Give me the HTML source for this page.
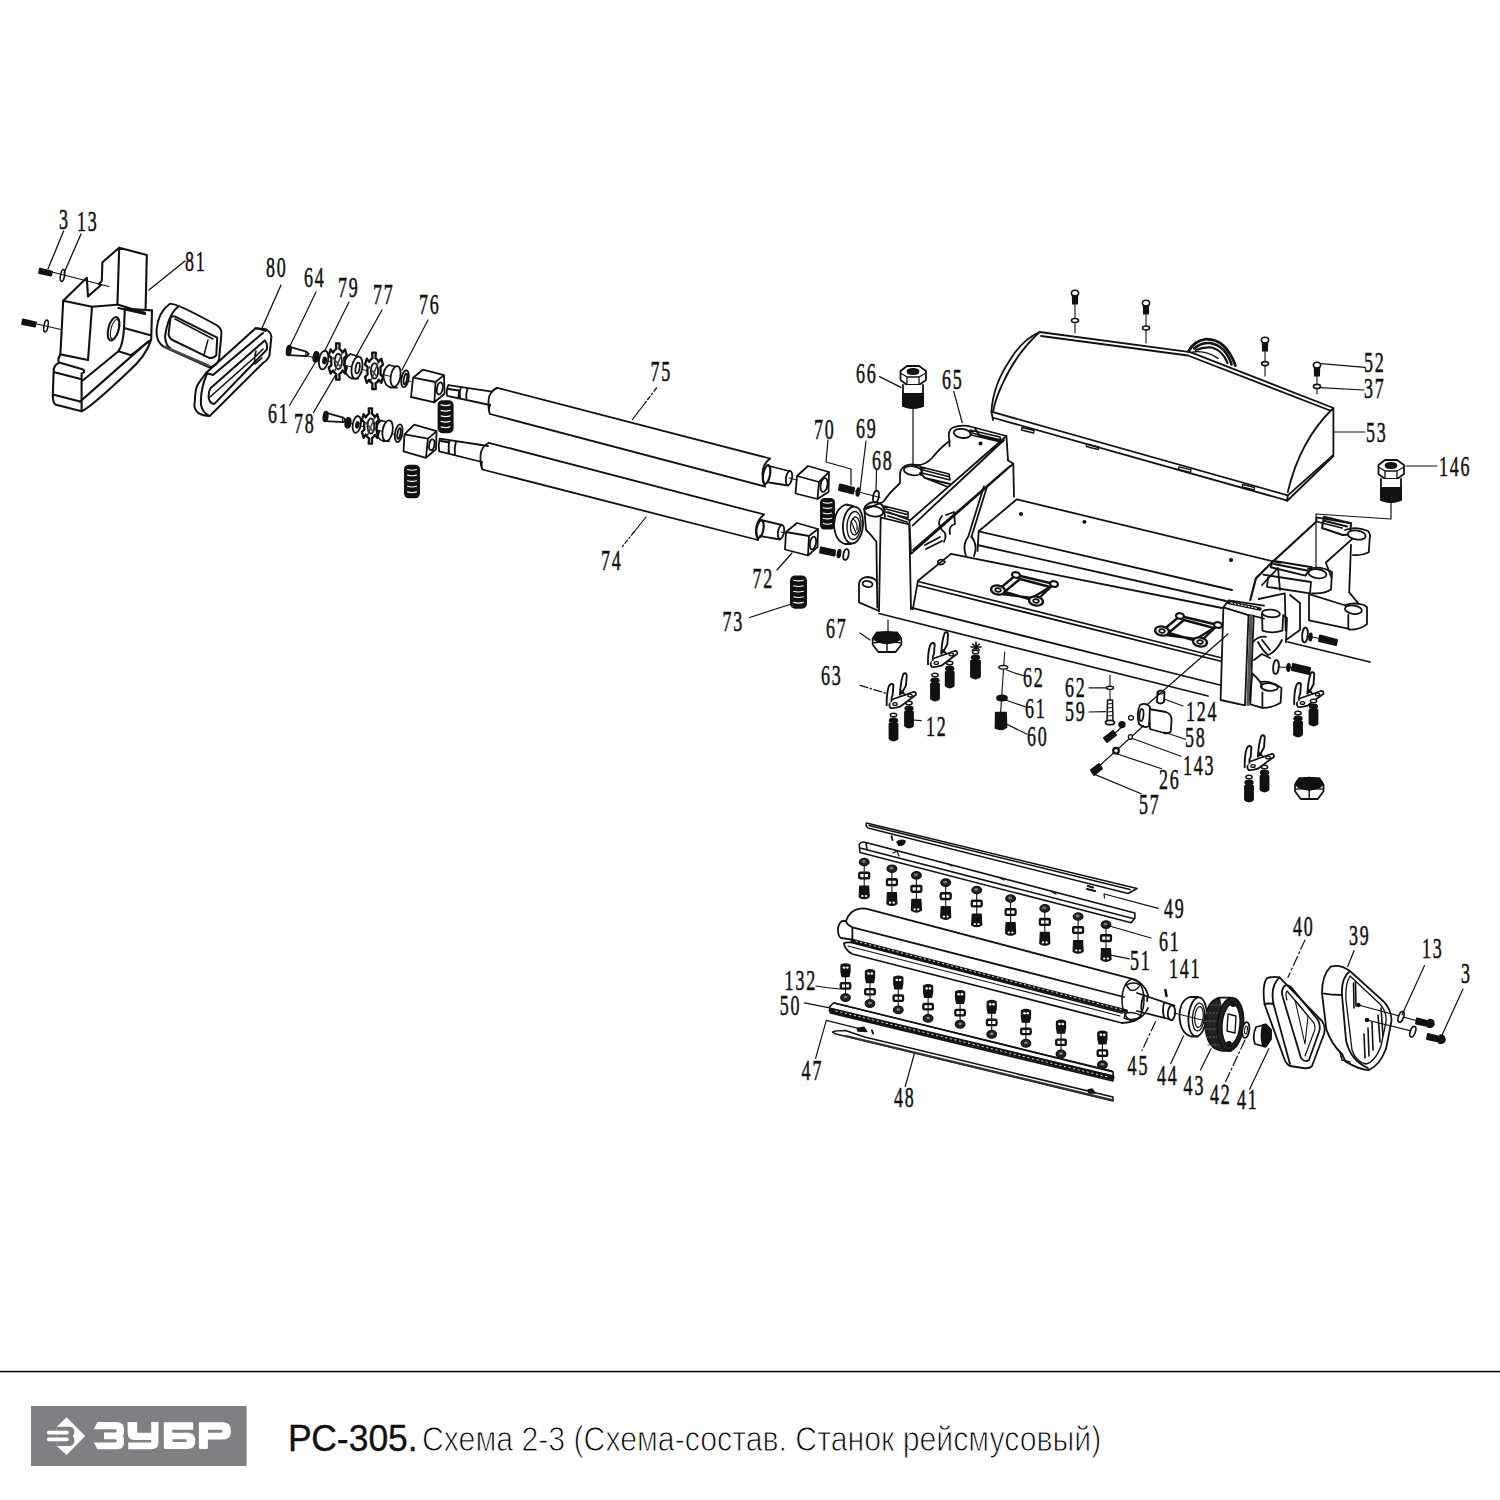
<!DOCTYPE html>
<html><head><meta charset="utf-8">
<style>
html,body{margin:0;padding:0;background:#fff;}
body{width:1500px;height:1500px;position:relative;overflow:hidden;}
svg{position:absolute;left:0;top:0;}
.ft{position:absolute;font-family:"Liberation Sans",sans-serif;white-space:nowrap;color:#1a1a1a;}
</style></head><body>
<svg width="1500" height="1500" viewBox="0 0 1500 1500">
<g id="draw" fill="none" stroke="#111" stroke-width="1.8" stroke-linejoin="round" stroke-linecap="round">
<!-- PART81 -->
<path d="M119.2,247.8 L146.8,255 L145.6,308.4 M119.2,247.8 L117.4,304.5 L144.8,312.8 M118.4,308 L145,314" stroke-width="2.1"/>
<path d="M119.2,247.8 L102.4,262.2 L101.8,281 L99,284" stroke-width="2.1"/>
<path d="M63.2,300.8 L86.8,277.8 L88,296.4 L101,285" stroke-width="2.1"/>
<path d="M63.2,300.8 L92,306.8 L88,360 M63.2,300.8 L60.4,354.4 L88,360" stroke-width="2.1"/>
<path d="M60.4,354.4 Q57,360 59.2,362.4 L83.2,369.6 Q86,372 81.6,373.6 M59.2,362.4 Q53,366 53.6,372 L52.8,396 Q53,404 56,404.8 L81.6,411.2 L81.6,373.6 M53.6,372 L81.6,379.2 M52.8,394.4 L80,401.6" stroke-width="2.1"/>
<path d="M82.4,380.8 L118.4,351.2 Q123,345 124,328.8 M118.4,351.2 L131.2,355.2 L149.6,340.8 M80,401.6 L147.2,342.4 M81.6,411.2 Q90,408 128,372 Q146,356 150.4,341.6" stroke-width="2.1"/>
<path d="M92,306.8 L116.8,304.8 M124.8,308.8 L124,328.8" stroke-width="2.1"/>
<path d="M124.8,308.8 L152,310.4 L151.2,340 L147.2,342.4 M124,328 L150.4,335.2" stroke-width="2.1"/>
<ellipse cx="113.6" cy="328.8" rx="5.2" ry="12" transform="rotate(15 113.6 328.8)" stroke-width="2"/>
<ellipse cx="114.6" cy="329.2" rx="3.6" ry="10" transform="rotate(15 114.6 329.2)" stroke-width="1.1"/>
<path d="M52,272 L109,286.5 M37,324 L61,329.5" stroke-width="1.1"/>
<path d="M40,268.5 L52,271.5 L51,275.5 L39,273 Z M23,319.5 L36,322.5 L35,326.5 L22,324 Z" fill="#111" stroke-width="1.8"/>
<ellipse cx="62.5" cy="275.5" rx="2" ry="6" transform="rotate(10 62.5 275.5)" stroke-width="1.6"/>
<ellipse cx="46" cy="326" rx="2" ry="6" transform="rotate(10 46 326)" stroke-width="1.6"/>
<path d="M63.6,231 L48,269 M81,234 L64,273 M185,261 L149,290 M281,285 L262,328" stroke-width="1.3"/>
<!-- RINGS80 -->
<path d="M169.6,304 Q175,302 217.2,325.5 Q222,329 221.4,334 L219.1,359 Q218,365 209.7,367.5 L164,346.9 Q156,342 156.5,330.1 Q158,312 169.6,304 Z" stroke-width="2"/>
<path d="M178,306.8 Q168,315 165,336.7 Q166,346 170,348" stroke-width="2"/>
<path d="M175.2,316.6 L217.2,337.6 L216.3,355.3 Q214,358 209.7,358.1 L171.5,339.5 Q168,336 168.7,332.9 L170.5,318 Q172,315.5 175.2,316.6 Z" stroke-width="2"/>
<path d="M175,319 L213,339 M208,340 Q205,350 204,356" stroke-width="1.5"/>
<path d="M165,347 L209,366" stroke="#444" stroke-width="2.5"/>
<path d="M255.5,328.3 L265.7,329.2 Q272,333 271.3,337.6 L269.5,355.3 Q268,360 263,363 L209.7,416 Q203,416 198.5,413.2 Q193,408 194.8,402 Q195,388 198.5,383.3 L206,373 Z" stroke-width="2"/>
<path d="M206.9,374 Q200,390 201,405 Q203,413 207.9,415 M206,373 Q210,374 213,375 L263,333 M255.5,328.3 Q262,329 265.7,331" stroke-width="2"/>
<path d="M210.7,388 L264.8,340.4 Q268,344 266.7,349.7 L214.4,403.9 Q210,404 208.8,398.3 Q208,392 210.7,388 Z" stroke-width="2"/>
<path d="M210,397 L256,356 L263,349 M256,351 Q254,358 255,364 L262,358" stroke-width="1.6"/>

<!-- B -->
<path d="M288.8,346.6 L306.40000000000003,351.6 L308.8,353.8 L306.40000000000003,356.20000000000005 L288.8,355.20000000000005"/><path d="M305.8,351.8 L305.8,356.0" stroke-width="1.2"/><ellipse cx="288.8" cy="350.6" rx="2.2" ry="5" transform="rotate(8 288.8 350.6)" fill="#111" stroke-width="1.6"/>
<path d="M306,355.6 L411,381.5" stroke-width="1"/>
<ellipse cx="316" cy="356.8" rx="2.6" ry="5" transform="rotate(10 316 356.8)" fill="#111"/>
<ellipse cx="323.6" cy="360" rx="4.5" ry="9.5" transform="rotate(10 323.6 360)" fill="#fff"/>
<ellipse cx="324.6" cy="360.5" rx="1.5" ry="3" transform="rotate(10 324.6 360.5)" fill="#111"/>
<polygon points="334.5,350.3 336.3,348.9 336.0,343.3 339.6,343.3 339.3,348.9 341.1,350.3 342.6,352.6 345.0,349.4 346.8,355.4 344.2,357.8 344.4,361.5 344.2,365.2 346.8,367.6 345.0,373.6 342.6,370.4 341.1,372.7 339.3,374.1 339.6,379.7 336.0,379.7 336.3,374.1 334.5,372.7 333.0,370.4 330.6,373.6 328.8,367.6 331.4,365.2 331.2,361.5 331.4,357.8 328.8,355.4 330.6,349.4 333.0,352.6" stroke-width="2.3" fill="#fff"/><ellipse cx="338.3" cy="361.5" rx="3.61" ry="7.77" transform="rotate(0 338.3 361.5)" stroke-width="1.8"/><path d="M333.1,357.8 L340.7,367.1 M334.9,370.8 L341.6,354.1" stroke-width="1.6" stroke="#444"/>
<path d="M350.4,354 Q344,358 344.5,367 Q345.5,376.5 352,378.5 L358,378.6 M350.4,354 L356.5,356"/>
<ellipse cx="357" cy="367.6" rx="5.3" ry="11.2" transform="rotate(10 357 367.6)" fill="#fff"/>
<ellipse cx="357.6" cy="368" rx="2" ry="5.5" transform="rotate(10 357.6 368)" />
<polygon points="370.7,359.6 372.5,358.2 372.2,352.6 375.8,352.6 375.5,358.2 377.3,359.6 378.8,361.9 381.2,358.7 383.0,364.7 380.4,367.1 380.6,370.8 380.4,374.5 383.0,376.9 381.2,382.9 378.8,379.7 377.3,382.0 375.5,383.4 375.8,389.0 372.2,389.0 372.5,383.4 370.7,382.0 369.2,379.7 366.8,382.9 365.0,376.9 367.6,374.5 367.4,370.8 367.6,367.1 365.0,364.7 366.8,358.7 369.2,361.9" stroke-width="2.3" fill="#fff"/><ellipse cx="374.5" cy="370.8" rx="3.61" ry="7.77" transform="rotate(0 374.5 370.8)" stroke-width="1.8"/><path d="M369.2,367.1 L376.9,376.4 M371.1,380.1 L377.8,363.4" stroke-width="1.6" stroke="#444"/>
<path d="M389,365 Q383,369 383.5,377 Q384.5,386 391,387.5 L397,387.6 M389,365 L395,366.5"/>
<ellipse cx="395.6" cy="376.4" rx="4.8" ry="10.5" transform="rotate(10 395.6 376.4)" fill="#fff"/>
<ellipse cx="405" cy="378.8" rx="3.6" ry="8.5" transform="rotate(10 405 378.8)" fill="#fff"/>
<ellipse cx="405.4" cy="379" rx="1.6" ry="5.5" transform="rotate(10 405.4 379)" />
<path d="M413.1,377.7 L422.7,369.7 L444,375.1 L435.5,382 Z M413.1,377.7 L411,397 L434.4,402.3 L435.5,382 M444,375.1 L444.6,393.8 L434.4,402.3"/>
<ellipse cx="439.8" cy="388.4" rx="2.8" ry="6" transform="rotate(10 439.8 388.4)" />
<path d="M448.3,385.2 L492,391.6 M447.2,395.9 L490,405 M448.3,385.2 Q446,390 447.2,395.9 M448.5,389 L459,390.5 L458.5,397.5 M461,387 Q459,392 460,398 M467.5,388.5 Q465.5,394 466.5,399.5"/>
<path d="M290.4,345.2 L316,292 M324.4,351.6 L349,302 M356,356.4 L382,310 M402,370 L428,320 M316,361.2 L289.6,405.2 M335.2,375.6 L313.6,412.4" stroke-width="1.2"/>
<path d="M325.6,412.6 L343.20000000000005,417.6 L345.6,419.8 L343.20000000000005,422.20000000000005 L325.6,421.20000000000005"/><path d="M342.6,417.8 L342.6,422.0" stroke-width="1.2"/><ellipse cx="325.6" cy="416.6" rx="2.2" ry="5" transform="rotate(8 325.6 416.6)" fill="#111" stroke-width="1.6"/>
<path d="M343,421.6 L403,436.5" stroke-width="1"/>
<ellipse cx="348" cy="422.8" rx="2.6" ry="5" transform="rotate(10 348 422.8)" fill="#111"/>
<ellipse cx="356.8" cy="424.4" rx="4" ry="8.5" transform="rotate(10 356.8 424.4)" fill="#fff"/>
<ellipse cx="357.4" cy="424.8" rx="1.4" ry="3" transform="rotate(10 357.4 424.8)" fill="#111"/>
<polygon points="367.2,415.1 369.0,413.7 368.7,408.3 372.1,408.3 371.8,413.7 373.5,415.1 375.0,417.4 377.2,414.2 378.9,420.1 376.4,422.4 376.7,426.0 376.4,429.6 378.9,431.9 377.2,437.8 375.0,434.6 373.5,436.9 371.8,438.3 372.1,443.7 368.7,443.7 369.0,438.3 367.2,436.9 365.8,434.6 363.6,437.8 361.9,431.9 364.4,429.6 364.1,426.0 364.4,422.4 361.9,420.1 363.6,414.2 365.8,417.4" stroke-width="2.3" fill="#fff"/><ellipse cx="370.9" cy="426" rx="3.42" ry="7.56" transform="rotate(0 370.9 426)" stroke-width="1.8"/><path d="M365.9,422.4 L373.1,431.4 M367.7,435.0 L374.0,418.8" stroke-width="1.6" stroke="#444"/>
<path d="M381,420.5 Q376,424 376.5,431 Q377.5,439.5 383,441 L389,441.2 M381,420.5 L387,422"/>
<ellipse cx="387.6" cy="430.8" rx="5" ry="10.5" transform="rotate(10 387.6 430.8)" fill="#fff"/>
<ellipse cx="398.7" cy="433.2" rx="3.6" ry="9" transform="rotate(10 398.7 433.2)" fill="#fff"/>
<ellipse cx="399" cy="433.5" rx="1.5" ry="5.5" transform="rotate(10 399 433.5)" />
<path d="M404.5,434.3 L414.1,424.7 L436.6,431.1 L428,438.6 Z M404.5,434.3 L403.5,451.4 L425.9,457.8 L428,438.6 M436.6,431.1 L436,449.2 L425.9,457.8"/>
<ellipse cx="431.8" cy="444.8" rx="2.6" ry="5.5" transform="rotate(10 431.8 444.8)" />
<path d="M439.8,438.6 L488,446 M439.2,451.4 L482,462 M439.8,438.6 Q438,445 439.2,451.4 M441,441 L449,442.5 L448.5,452 M449.5,440.5 Q448,446 449,452.5 M456,441.5 Q454,448 455,454.5"/>
<rect x="437.6" y="400.2" width="16.0" height="33.0" rx="4.8" fill="#111" stroke="none"/><path d="M441.1,404.9 Q445.6,406.3 450.1,404.9" stroke="#fff" stroke-width="1.1"/><path d="M441.1,410.4 Q445.6,411.8 450.1,410.4" stroke="#fff" stroke-width="1.1"/><path d="M441.1,415.9 Q445.6,417.3 450.1,415.9" stroke="#fff" stroke-width="1.1"/><path d="M441.1,421.4 Q445.6,422.8 450.1,421.4" stroke="#fff" stroke-width="1.1"/><path d="M441.1,426.9 Q445.6,428.3 450.1,426.9" stroke="#fff" stroke-width="1.1"/>
<rect x="404" y="464.7" width="16" height="33.60000000000002" rx="4.8" fill="#111" stroke="none"/><path d="M407.5,469.5 Q412.0,470.9 416.5,469.5" stroke="#fff" stroke-width="1.1"/><path d="M407.5,475.1 Q412.0,476.5 416.5,475.1" stroke="#fff" stroke-width="1.1"/><path d="M407.5,480.7 Q412.0,482.1 416.5,480.7" stroke="#fff" stroke-width="1.1"/><path d="M407.5,486.3 Q412.0,487.7 416.5,486.3" stroke="#fff" stroke-width="1.1"/><path d="M407.5,491.9 Q412.0,493.3 416.5,491.9" stroke="#fff" stroke-width="1.1"/>
<path d="M492,391.6 Q495,388 497.4,387.9 L770,458.5 M490,405 Q488,410 490,414 L765,486.5 M497.4,387.9 Q489,392 488.6,400 Q488,410 490,414"/>
<path d="M488.8,442.8 L764,514.5 M482.4,469.5 L758,540 M488.8,442.8 Q481,447 480.6,455 Q480,465 482.4,469.5 M482,462 Q481,466 482.4,469.5"/>
<path d="M770,458.5 Q762,465 762.5,474 Q763,483 765,486.5"/>
<ellipse cx="766.6" cy="474.5" rx="3.4" ry="9.5" transform="rotate(10 766.6 474.5)" stroke-width="2.2"/>
<path d="M769,466 L789,471 M769,482.5 L788,485.5"/>
<ellipse cx="789" cy="478" rx="3" ry="7.2" transform="rotate(10 789 478)" />
<path d="M789,478 L797,480" stroke-width="1"/>
<path d="M764,514.5 Q756,521 756,530 Q756.5,537 758,540"/>
<ellipse cx="760" cy="529" rx="3.4" ry="9" transform="rotate(10 760 529)" stroke-width="2.2"/>
<path d="M761,520 L782,525 M760,536 L780,539.5"/>
<ellipse cx="781" cy="532" rx="3" ry="7" transform="rotate(10 781 532)" />
<path d="M781,532 L786,533.5" stroke-width="1"/>
<path d="M797,476 L808,466 L829,472 L819,482 Z M797,476 L795.5,493.5 L817.5,499 L819,482 M829,472 L828.5,492 L817.5,499"/>
<ellipse cx="824" cy="485" rx="3.4" ry="7" transform="rotate(10 824 485)" />
<path d="M786,532 L797,523 L818,529 L809,536 Z M786,532 L785,549.5 L808,555.5 L809,536 M818,529 L817.5,547 L808,555.5"/>
<ellipse cx="813" cy="543" rx="3" ry="6.5" transform="rotate(10 813 543)" />
<rect x="820" y="498" width="15" height="31.5" rx="4.5" fill="#111" stroke="none"/><path d="M823.3,502.4 Q827.5,503.9 831.7,502.4" stroke="#fff" stroke-width="1.1"/><path d="M823.3,507.7 Q827.5,509.1 831.7,507.7" stroke="#fff" stroke-width="1.1"/><path d="M823.3,513.0 Q827.5,514.4 831.7,513.0" stroke="#fff" stroke-width="1.1"/><path d="M823.3,518.2 Q827.5,519.6 831.7,518.2" stroke="#fff" stroke-width="1.1"/><path d="M823.3,523.5 Q827.5,524.9 831.7,523.5" stroke="#fff" stroke-width="1.1"/>
<rect x="790" y="575.5" width="17" height="33.200000000000045" rx="5.1" fill="#111" stroke="none"/><path d="M793.7,580.2 Q798.5,581.6 803.3,580.2" stroke="#fff" stroke-width="1.1"/><path d="M793.7,585.8 Q798.5,587.2 803.3,585.8" stroke="#fff" stroke-width="1.1"/><path d="M793.7,591.3 Q798.5,592.7 803.3,591.3" stroke="#fff" stroke-width="1.1"/><path d="M793.7,596.8 Q798.5,598.2 803.3,596.8" stroke="#fff" stroke-width="1.1"/><path d="M793.7,602.4 Q798.5,603.8 803.3,602.4" stroke="#fff" stroke-width="1.1"/>
<path d="M840,484.5 L854,488 L853,493.5 L839,490 Z" fill="#111" stroke-width="2"/>
<ellipse cx="858" cy="492" rx="1.4" ry="4" transform="rotate(10 858 492)" fill="#111"/>
<ellipse cx="876" cy="496.5" rx="2.8" ry="6" transform="rotate(10 876 496.5)" />
<path d="M853,490.5 L880,497.5" stroke-width="1"/>
<path d="M821,547.5 L835,550.5 L834.5,555.5 L820,552.5 Z" fill="#111" stroke-width="2"/>
<ellipse cx="839" cy="553.5" rx="1.4" ry="4" transform="rotate(10 839 553.5)" fill="#111"/>
<ellipse cx="846" cy="554.5" rx="2.6" ry="5.5" transform="rotate(10 846 554.5)" />
<path d="M645,403 L632.5,419.5 M646,517 L634,532 M828,440 L826,462 L851,469 L851,485 M866,441 L860,490 M876.5,470 L876,492 M792,553 L777,570 M749.5,617.5 L791.5,604" stroke-width="1.2"/>
<path d="M656.5,388 L645,403 M634,532 L622,547" stroke-width="1.3" stroke-dasharray="4 2.5 1.5 2.5"/>
<!-- D -->
<ellipse cx="962.2" cy="433.4" rx="8.5" ry="4.5" transform="rotate(8 962.2 433.4)" />
<path d="M949.5,441 Q947,430 953,427.5 Q962,424 972,427 L1006.4,436 L1008,460.3 M949.5,441 L949.5,446"/>
<path d="M975,428.5 L980,436 L1003,441.5 M978,435 L1000,441"/>
<path d="M949.5,441 Q941,447 932,458 Q925,466 914,465 M906,465.5 Q900,468 900,475 L900,483 Q890,492 883,502 Q873,506 866,508.8"/>
<ellipse cx="912.8" cy="470.7" rx="9" ry="4.5" transform="rotate(8 912.8 470.7)" />
<path d="M905,466 Q911,463 920,466 Q923,470 921,475 M920,473 L925,478 L950,484 M925,478 L948,487" />
<ellipse cx="873.8" cy="511.4" rx="9.5" ry="5" transform="rotate(8 873.8 511.4)" />
<path d="M864.3,508.8 Q866,503 874,502 Q884,503 884,510 M884,510 L885,517 M888,512 L909.3,520 M888,516 L907,522"/>
<path d="M1006.4,436 L909.3,521 M1004,440 L912.8,525.3 M909.3,521 L911,553.9 M911,553.9 L1013.3,463.7 M913,550 L1010,466"/>
<path d="M880.7,517.5 L879,611 M909.3,524.4 L911,609.3 M880.7,517.5 L909.3,524.4"/>
<path d="M864.3,508.8 L866,529.6 Q872,536 876.4,541.7 L877.3,607.6"/>
<path d="M859,583 L859,602.4 L879,611 M859,583 Q861,577 868,577 Q876,578 877.3,583"/>
<ellipse cx="867.5" cy="584" rx="5" ry="3" transform="rotate(10 867.5 584)" />
<path d="M879,613.5 L1208,696 M1222,699.5 L1240,704.2 M911,607.7 L1220,685 M918,581.5 L1222,658 M918,585.5 L1222,661.5 M918,580.7 L912.8,609.3 M918,580.7 L951,553.9 L1222,608"/>
<path d="M938,561 Q942,558 945,562 Q942,566 938,564 Z"/>
<path d="M1008,460.3 L1013.3,463.7 L1014,496.7"/>
<path d="M978.7,531.3 L1016.8,499.3 L1280,563 M978.7,531.3 L1232,590 M977.5,545 L1226,601 M978.7,531.3 L977.5,551"/>
<path d="M983.9,486.3 L968.3,536.5 M987,486.8 L971.3,537.3 M968.3,536.5 Q962,545 966,556 M972,537 Q978,546 974,556"/>
<path d="M942,516 Q936,523 942,530 Q948,534 944,541.7 M946,515 L954,512 L955,524 Q948,526 950,534" />
<path d="M925,545 L940,537 M926,549 L942,541"/>
<ellipse cx="1021" cy="514" rx="1.2" ry="1" transform="rotate(0 1021 514)" fill="#111"/>
<ellipse cx="1084.4" cy="521.8" rx="1.2" ry="1" transform="rotate(0 1084.4 521.8)" fill="#111"/>
<ellipse cx="1231" cy="560" rx="1.2" ry="1" transform="rotate(0 1231 560)" fill="#111"/>
<ellipse cx="980.5" cy="443.5" rx="1.2" ry="1" transform="rotate(0 980.5 443.5)" fill="#111"/>
<path d="M998,590 L1016,575 L1054,584 L1036,601 Z M1002,594 L1020,579 L1050,587 L1032,598 Z" stroke-width="2.4"/><ellipse cx="998" cy="590" rx="7" ry="4.5" transform="rotate(10 998 590)" fill="#fff" stroke-width="2.4"/><ellipse cx="998" cy="590" rx="2.8" ry="1.8" transform="rotate(10 998 590)" /><ellipse cx="1036" cy="601" rx="7" ry="4.5" transform="rotate(10 1036 601)" fill="#fff" stroke-width="2.4"/><ellipse cx="1036" cy="601" rx="2.8" ry="1.8" transform="rotate(10 1036 601)" /><ellipse cx="1016" cy="575" rx="4" ry="2.8" transform="rotate(10 1016 575)" fill="#fff" stroke-width="2.2"/><ellipse cx="1054" cy="584" rx="4" ry="2.8" transform="rotate(10 1054 584)" fill="#fff" stroke-width="2.2"/>
<path d="M1162,631 L1180,616 L1218,625 L1200,642 Z M1166,635 L1184,620 L1214,628 L1196,639 Z" stroke-width="2.4"/><ellipse cx="1162" cy="631" rx="7" ry="4.5" transform="rotate(10 1162 631)" fill="#fff" stroke-width="2.4"/><ellipse cx="1162" cy="631" rx="2.8" ry="1.8" transform="rotate(10 1162 631)" /><ellipse cx="1200" cy="642" rx="7" ry="4.5" transform="rotate(10 1200 642)" fill="#fff" stroke-width="2.4"/><ellipse cx="1200" cy="642" rx="2.8" ry="1.8" transform="rotate(10 1200 642)" /><ellipse cx="1180" cy="616" rx="4" ry="2.8" transform="rotate(10 1180 616)" fill="#fff" stroke-width="2.2"/><ellipse cx="1218" cy="625" rx="4" ry="2.8" transform="rotate(10 1218 625)" fill="#fff" stroke-width="2.2"/>
<path d="M1223.4,607.3 L1220.6,700 L1245,705.3 L1248.5,615.1 Z" fill="#fff"/>
<path d="M1223.4,607.3 L1228.6,600.4 L1264,605.6 M1248.5,615.1 L1254,616 L1264,618.6"/>
<path d="M1229,602.5 L1260,609" stroke="#111" stroke-width="3.5"/>
<path d="M1231,603 L1258,608.6" stroke="#fff" stroke-width="1" stroke-dasharray="1.5 2"/>
<path d="M1251,616 L1248,704.5" stroke="#555" stroke-width="3.2"/>
<path d="M1253.7,616 L1250.3,704.4 M1250.3,704.4 L1262.4,707.9"/>
<ellipse cx="1271" cy="613.4" rx="9" ry="3.8" transform="rotate(5 1271 613.4)" fill="#fff"/>
<path d="M1262,614 L1262.5,630.7 Q1272,634 1282.4,630.7 L1283.2,615.1 M1283.2,615.1 L1287,618 L1286,642"/>
<path d="M1252.9,642 Q1258,636 1266,636.8 M1258,642 Q1262,650 1268,655 Q1276,652 1282,640 M1262,640 Q1266,645 1270,650 M1254,660 L1262,654 L1270,658"/>
<ellipse cx="1269.3" cy="687" rx="8.5" ry="3.8" transform="rotate(5 1269.3 687)" fill="#fff"/>
<path d="M1252,673.2 Q1262,682 1262,687 M1260,682 Q1270,680 1281.5,688 L1280.6,702.7 Q1272,708 1262.4,707.9 L1262.4,692.3 M1252,676 L1250,700"/>
<path d="M1316.5,521.5 L1270.8,563.5 L1255.9,578.4 L1250.3,600" stroke-width="2.2"/>
<path d="M1316.5,517.3 L1351,523.3 M1316.5,517.3 L1316.5,521.5 L1342,528"/>
<path d="M1324,516.8 L1351,523.3 L1350,534.5 L1342.7,535 L1322,528 Z M1325,521 L1347,526.5" stroke-width="2"/>
<ellipse cx="1356.7" cy="535" rx="9" ry="4.5" transform="rotate(8 1356.7 535)" fill="#fff"/>
<path d="M1345,530 Q1356,526 1368,531 Q1371,535 1369.7,538 L1368.8,552.3 Q1362,556 1353,555 M1352,539.2 L1325.9,562.5 L1326.8,565.3 L1331.5,577.5 M1351,544.8 L1349.2,592.4 L1358.5,603.6"/>
<path d="M1272.7,560.7 L1311.9,567.2 L1305.3,575.6 L1270.8,567.2 Z M1274,564 L1307,570.5" stroke-width="2"/>
<ellipse cx="1317.5" cy="573.7" rx="9" ry="4.5" transform="rotate(8 1317.5 573.7)" fill="#fff"/>
<path d="M1308,569 Q1320,565 1332,572 L1331,589.6 Q1325,594 1311.9,593.3 M1263.3,574.7 L1311,582 M1268,577.5 L1267,586.8 L1310,593.3 L1311,582"/>
<path d="M1310,594.3 L1345.5,605.5 M1309,594.3 L1309,620.4 L1349.2,628.8 M1345,605 Q1354,602 1364,605 L1367,607.3 L1367,624.1 Q1360,630 1349.2,629.7 M1348.3,614.8 L1348.3,629"/>
<ellipse cx="1353.4" cy="609.7" rx="8.5" ry="4.2" transform="rotate(8 1353.4 609.7)" fill="#fff"/>
<path d="M1258.7,599 L1284.8,593.3 L1285.7,630.7 M1262,585 L1278,568 L1280,590 M1290,595 L1300,603 L1300,630 L1286,640" />
<path d="M1288,642 L1370,662"/>
<path d="M846,504.5 Q835,508 834,525 Q835,541 845,544 L851,544 M846,504.5 L853,506" fill="#fff"/>
<ellipse cx="853" cy="525" rx="10" ry="18.5" transform="rotate(5 853 525)" fill="#fff"/>
<ellipse cx="854" cy="525.5" rx="7" ry="14" transform="rotate(5 854 525.5)" stroke-width="1.4"/>
<ellipse cx="855" cy="526" rx="4.5" ry="9" transform="rotate(5 855 526)" stroke-width="1.3"/>
<path d="M853,519 Q858,522 857,530 M851,521 L856,533" stroke-width="1.2"/>
<path d="M921,467 L949,474 L950,480 L922,473 Z M923,470 L948,476.5" stroke-width="1.6"/>
<path d="M884,506 L908,512 L908,518 L885,512 Z M886,509 L907,514.5" stroke-width="1.6"/>
<path d="M970,430 L1000,437 L1001,442 L971,435 Z M972,433 L999,439.5" stroke-width="1.6"/>
<!-- E -->
<path d="M1039.5,332 L1190.3,352.2 L1333.4,408 L1333.4,454.8 L1287.8,495.4 L991.4,411.7 Q993,385 1010,360 Q1022,340 1039.5,332 Z" fill="#fff"/>
<path d="M1041,336 L1188,355.5 L1330,410.5 M1333.4,408 Q1300,440 1287.8,492 M994,418 L1286.6,500.3 M991.4,411.7 L993,420 M1287.8,495.4 L1287,501 L1333.4,456"/>
<path d="M1039.5,332 Q1015,355 1002,385 Q995,400 993,412"/>
<path d="M1188.6,351.2 Q1194,341 1206,339.2 Q1226,339 1235.4,365.6" stroke-width="2.8"/>
<path d="M1194,348.5 Q1201,342.5 1210,343 Q1226,346 1231.5,364.5" stroke-width="2.6"/>
<path d="M1196,350 Q1204,346.5 1212,347.5 Q1223,351 1227.5,363" stroke-width="2.2"/>
<path d="M1193,352 Q1206,350 1218,358.4" stroke-width="1.4"/>
<path d="M1022,427.5 L1034,430.5 L1033.5,433.0 L1021.5,430.0 Z" stroke-width="1.3"/>
<path d="M1086.7,444 L1098.7,447 L1098.2,449.5 L1086.2,446.5 Z" stroke-width="1.3"/>
<path d="M1179,466.8 L1191,469.8 L1190.5,472.3 L1178.5,469.3 Z" stroke-width="1.3"/>
<path d="M1242.6,484.5 L1254.6,487.5 L1254.1,490.0 L1242.1,487.0 Z" stroke-width="1.3"/>
<path d="M1075,296 L1075,333" stroke-width="1.1"/><path d="M1072.4,295 L1072.6,304 L1077.4,304 L1077.6,295 Z" fill="#111" stroke-width="1.2"/><ellipse cx="1075" cy="293" rx="3.6" ry="2.8" transform="rotate(0 1075 293)" fill="#fff" stroke-width="1.6"/><ellipse cx="1075" cy="320.5" rx="3.5" ry="2" transform="rotate(0 1075 320.5)" fill="#fff" stroke-width="1.6"/>
<path d="M1146,306 L1146,343" stroke-width="1.1"/><path d="M1143.4,305 L1143.6,314 L1148.4,314 L1148.6,305 Z" fill="#111" stroke-width="1.2"/><ellipse cx="1146" cy="303" rx="3.6" ry="2.8" transform="rotate(0 1146 303)" fill="#fff" stroke-width="1.6"/><ellipse cx="1146" cy="328" rx="3.5" ry="2" transform="rotate(0 1146 328)" fill="#fff" stroke-width="1.6"/>
<path d="M1265,343 L1265,376" stroke-width="1.1"/><path d="M1262.4,342 L1262.6,351 L1267.4,351 L1267.6,342 Z" fill="#111" stroke-width="1.2"/><ellipse cx="1265" cy="340" rx="3.6" ry="2.8" transform="rotate(0 1265 340)" fill="#fff" stroke-width="1.6"/><ellipse cx="1265" cy="363.6" rx="3.5" ry="2" transform="rotate(0 1265 363.6)" fill="#fff" stroke-width="1.6"/>
<path d="M1317,368 L1317,394" stroke-width="1.1"/><path d="M1314.4,367 L1314.6,376 L1319.4,376 L1319.6,367 Z" fill="#111" stroke-width="1.2"/><ellipse cx="1317" cy="365" rx="3.6" ry="2.8" transform="rotate(0 1317 365)" fill="#fff" stroke-width="1.6"/><ellipse cx="1317" cy="386.4" rx="3.5" ry="2" transform="rotate(0 1317 386.4)" fill="#fff" stroke-width="1.6"/>
<path d="M1321,363.6 L1365,367.4 M1319.5,387.7 L1364,390 M1334.7,432 L1365,432" stroke-width="1.2"/>
<path d="M900.5,371 L900.5,380 L907,385 L919,385 L926,380 L926,371 L919,366 L907,366 Z" fill="#fff"/><path d="M900.5,373 L907,377 L919,377 L926,373 M907,377 L907,385 M919,377 L919,385" stroke-width="1.3"/><ellipse cx="913" cy="371.5" rx="5.5" ry="2.6" transform="rotate(0 913 371.5)" fill="#111"/><path d="M903,385 L903,406 Q913,410 923,406 L923,385" fill="#fff"/><path d="M903,394 L903,406 Q913,410 923,406 L923,394 Z" fill="#111"/>
<path d="M913,409 L913,466.7 M879.5,376.6 L901,387.4 M953.7,391.4 L962.2,422.5" stroke-width="1.2"/>
<path d="M1378.5,465 L1378.5,474 L1385,479 L1397,479 L1404,474 L1404,465 L1397,460 L1385,460 Z" fill="#fff"/><path d="M1378.5,467 L1385,471 L1397,471 L1404,467 M1385,471 L1385,479 M1397,471 L1397,479" stroke-width="1.3"/><ellipse cx="1391" cy="465.5" rx="5.5" ry="2.6" transform="rotate(0 1391 465.5)" fill="#111"/><path d="M1381,479 L1381,500 Q1391,504 1401,500 L1401,479" fill="#fff"/><path d="M1381,488 L1381,500 Q1391,504 1401,500 L1401,488 Z" fill="#111"/>
<path d="M1391,503 L1391,519 L1316,514 L1316,568 M1406,466 L1437,466" stroke-width="1.2"/>
<!-- F -->
<path d="M876.99,632.3349999999999 L897.01,632.3349999999999 L901.3,638.545 L901.3,644.755 L895.5799999999999,652 L878.4200000000001,652 L872.7,644.755 L872.7,638.545 Z" fill="#fff"/><ellipse cx="887.0" cy="637.51" rx="13.155999999999958" ry="5.589000000000013" fill="#111"/><path d="M874.13,642.685 Q881.28,641.65 887.0,643.72 Q892.72,641.65 899.87,642.685 M887.0,643.72 L887.0,652" stroke-width="1.4"/>
<path d="M888,620 L888,632 M860,633 L870,640" stroke-width="1.2"/>
<path d="M1299.275,778.1 L1319.225,778.1 L1323.5,784.7 L1323.5,791.3 L1317.8,799 L1300.7,799 L1295,791.3 L1295,784.7 Z" fill="#fff"/><ellipse cx="1309.25" cy="783.6" rx="13.110000000000001" ry="5.94" fill="#111"/><path d="M1296.425,789.1 Q1303.55,788.0 1309.25,790.2 Q1314.95,788.0 1322.075,789.1 M1309.25,790.2 L1309.25,799" stroke-width="1.4"/>
<path d="M890.7,700.0 L913.3,692.0 Q916.0,691.5 916.0,694.7 L900.0,706.7 Q894.0,708.5 890.7,708.0 Q888.0,706.0 890.7,700.0 Z" stroke-width="1.8" fill="#fff"/><path d="M886.7,705.3 Q886.5,693.0 888.7,686.7 Q890.0,683.5 892.0,684.0 Q893.8,684.5 893.3,686.7 L892.7,694.7 Q891.0,697.0 891.5,701.0" stroke-width="1.9" fill="#fff"/><path d="M900.0,694.7 L900.0,692.7 Q901.0,681.0 902.7,676.0 Q903.5,673.0 904.7,673.3 Q907.0,673.5 906.7,676.0 L906.0,685.3 Q904.0,690.0 900.0,694.7 M902.0,691.0 L905.0,695.0" stroke-width="1.9" fill="#fff"/><ellipse cx="910.0" cy="695.5" rx="2.2" ry="1.4" stroke-width="1.3"/><ellipse cx="895.0" cy="704.0" rx="2.2" ry="1.4" stroke-width="1.3"/>
<ellipse cx="893.5" cy="715" rx="3.2" ry="1.8" transform="rotate(0 893.5 715)" stroke-width="1.4" fill="#fff"/><ellipse cx="893.5" cy="720.5" rx="3.8" ry="2.2" transform="rotate(0 893.5 720.5)" fill="#111"/><path d="M889.5,724 L897.5,724 L897.5,737 Q898.5,740 893.5,740.5 Q888.5,740 889.5,737 Z" fill="#111"/>
<ellipse cx="909" cy="703" rx="3.2" ry="1.8" transform="rotate(0 909 703)" stroke-width="1.4" fill="#fff"/><ellipse cx="909" cy="708.5" rx="3.8" ry="2.2" transform="rotate(0 909 708.5)" fill="#111"/><path d="M905.0,712 L913.0,712 L913.0,724 Q914.0,727 909,727.5 Q904.0,727 905.0,724 Z" fill="#111"/>
<path d="M932.0,659.0 L954.6,651.0 Q957.3,650.5 957.3,653.7 L941.3,665.7 Q935.3,667.5 932.0,667.0 Q929.3,665.0 932.0,659.0 Z" stroke-width="1.8" fill="#fff"/><path d="M928.0,664.3 Q927.8,652.0 930.0,645.7 Q931.3,642.5 933.3,643.0 Q935.1,643.5 934.6,645.7 L934.0,653.7 Q932.3,656.0 932.8,660.0" stroke-width="1.9" fill="#fff"/><path d="M941.3,653.7 L941.3,651.7 Q942.3,640.0 944.0,635.0 Q944.8,632.0 946.0,632.3 Q948.3,632.5 948.0,635.0 L947.3,644.3 Q945.3,649.0 941.3,653.7 M943.3,650.0 L946.3,654.0" stroke-width="1.9" fill="#fff"/><ellipse cx="951.3" cy="654.5" rx="2.2" ry="1.4" stroke-width="1.3"/><ellipse cx="936.3" cy="663.0" rx="2.2" ry="1.4" stroke-width="1.3"/>
<ellipse cx="935" cy="675" rx="3.2" ry="1.8" transform="rotate(0 935 675)" stroke-width="1.4" fill="#fff"/><ellipse cx="935" cy="680.5" rx="3.8" ry="2.2" transform="rotate(0 935 680.5)" fill="#111"/><path d="M931.0,684 L939.0,684 L939.0,697 Q940.0,700 935,700.5 Q930.0,700 931.0,697 Z" fill="#111"/>
<ellipse cx="949.7" cy="663" rx="3.2" ry="1.8" transform="rotate(0 949.7 663)" stroke-width="1.4" fill="#fff"/><ellipse cx="949.7" cy="668.5" rx="3.8" ry="2.2" transform="rotate(0 949.7 668.5)" fill="#111"/><path d="M945.7,672 L953.7,672 L953.7,684 Q954.7,687 949.7,687.5 Q944.7,687 945.7,684 Z" fill="#111"/>
<path d="M976,642 L976,650 M971,647 L981,647 M972.5,644 L979.5,650 M979.5,644 L972.5,650" stroke-width="1.6"/>
<ellipse cx="975.5" cy="652" rx="3.2" ry="1.8" transform="rotate(0 975.5 652)" stroke-width="1.4" fill="#fff"/><ellipse cx="975.5" cy="657.5" rx="3.8" ry="2.2" transform="rotate(0 975.5 657.5)" fill="#111"/><path d="M971.0,661 L980.0,661 L980.0,675 Q981.0,678 975.5,678.5 Q970.0,678 971.0,675 Z" fill="#111"/>
<path d="M1298.2,699.0 L1320.8,691.0 Q1323.5,690.5 1323.5,693.7 L1307.5,705.7 Q1301.5,707.5 1298.2,707.0 Q1295.5,705.0 1298.2,699.0 Z" stroke-width="1.8" fill="#fff"/><path d="M1294.2,704.3 Q1294.0,692.0 1296.2,685.7 Q1297.5,682.5 1299.5,683.0 Q1301.3,683.5 1300.8,685.7 L1300.2,693.7 Q1298.5,696.0 1299.0,700.0" stroke-width="1.9" fill="#fff"/><path d="M1307.5,693.7 L1307.5,691.7 Q1308.5,680.0 1310.2,675.0 Q1311.0,672.0 1312.2,672.3 Q1314.5,672.5 1314.2,675.0 L1313.5,684.3 Q1311.5,689.0 1307.5,693.7 M1309.5,690.0 L1312.5,694.0" stroke-width="1.9" fill="#fff"/><ellipse cx="1317.5" cy="694.5" rx="2.2" ry="1.4" stroke-width="1.3"/><ellipse cx="1302.5" cy="703.0" rx="2.2" ry="1.4" stroke-width="1.3"/>
<ellipse cx="1298" cy="713" rx="3.2" ry="1.8" transform="rotate(0 1298 713)" stroke-width="1.4" fill="#fff"/><ellipse cx="1298" cy="718.5" rx="3.8" ry="2.2" transform="rotate(0 1298 718.5)" fill="#111"/><path d="M1294.0,722 L1302.0,722 L1302.0,733 Q1303.0,736 1298,736.5 Q1293.0,736 1294.0,733 Z" fill="#111"/>
<ellipse cx="1313.5" cy="701" rx="3.2" ry="1.8" transform="rotate(0 1313.5 701)" stroke-width="1.4" fill="#fff"/><ellipse cx="1313.5" cy="706.5" rx="3.8" ry="2.2" transform="rotate(0 1313.5 706.5)" fill="#111"/><path d="M1309.5,710 L1317.5,710 L1317.5,722 Q1318.5,725 1313.5,725.5 Q1308.5,725 1309.5,722 Z" fill="#111"/>
<path d="M1248.7,762.0 L1271.3,754.0 Q1274.0,753.5 1274.0,756.7 L1258.0,768.7 Q1252.0,770.5 1248.7,770.0 Q1246.0,768.0 1248.7,762.0 Z" stroke-width="1.8" fill="#fff"/><path d="M1244.7,767.3 Q1244.5,755.0 1246.7,748.7 Q1248.0,745.5 1250.0,746.0 Q1251.8,746.5 1251.3,748.7 L1250.7,756.7 Q1249.0,759.0 1249.5,763.0" stroke-width="1.9" fill="#fff"/><path d="M1258.0,756.7 L1258.0,754.7 Q1259.0,743.0 1260.7,738.0 Q1261.5,735.0 1262.7,735.3 Q1265.0,735.5 1264.7,738.0 L1264.0,747.3 Q1262.0,752.0 1258.0,756.7 M1260.0,753.0 L1263.0,757.0" stroke-width="1.9" fill="#fff"/><ellipse cx="1268.0" cy="757.5" rx="2.2" ry="1.4" stroke-width="1.3"/><ellipse cx="1253.0" cy="766.0" rx="2.2" ry="1.4" stroke-width="1.3"/>
<ellipse cx="1249" cy="777" rx="3.2" ry="1.8" transform="rotate(0 1249 777)" stroke-width="1.4" fill="#fff"/><ellipse cx="1249" cy="782.5" rx="3.8" ry="2.2" transform="rotate(0 1249 782.5)" fill="#111"/><path d="M1245.0,786 L1253.0,786 L1253.0,798 Q1254.0,801 1249,801.5 Q1244.0,801 1245.0,798 Z" fill="#111"/>
<ellipse cx="1264.5" cy="767" rx="3.2" ry="1.8" transform="rotate(0 1264.5 767)" stroke-width="1.4" fill="#fff"/><ellipse cx="1264.5" cy="772.5" rx="3.8" ry="2.2" transform="rotate(0 1264.5 772.5)" fill="#111"/><path d="M1260.5,776 L1268.5,776 L1268.5,788 Q1269.5,791 1264.5,791.5 Q1259.5,791 1260.5,788 Z" fill="#111"/>
<path d="M1004.7,652 L1000,721.3" stroke-width="1.1"/>
<ellipse cx="1003.3" cy="667.3" rx="4.5" ry="1.8" transform="rotate(0 1003.3 667.3)" fill="#fff" stroke-width="1.4"/>
<ellipse cx="1002" cy="698" rx="5" ry="2.6" transform="rotate(0 1002 698)" fill="#111"/>
<path d="M995.8,712.7 L1006,712.7 L1006.5,727 Q1002,731 995.5,728 Z" fill="#111"/>
<path d="M1006.7,670 Q1014,673 1024.7,676 M1005.3,700 Q1014,703 1025.3,706.7 M1004.7,723.3 L1026.7,734 M912.7,720 L921.3,720.7" stroke-width="1.2"/>
<path d="M1110,675.3 L1110,700" stroke-width="1.1"/>
<ellipse cx="1110" cy="687.8" rx="3.6" ry="1.6" transform="rotate(0 1110 687.8)" fill="#fff" stroke-width="1.4"/>
<path d="M1107.5,700 L1112.5,700 L1113,721 L1107,721 Z" fill="#fff" stroke-width="1.5"/>
<path d="M1107.5,704 L1112.5,703.5 M1107.5,708 L1112.5,707.5 M1107.5,712 L1112.5,711.5 M1107.5,716 L1112.5,715.5" stroke-width="1.2"/>
<ellipse cx="1110" cy="722.5" rx="4.5" ry="2.2" transform="rotate(0 1110 722.5)" fill="#fff"/>
<path d="M1089,687.8 L1106,687.8 M1089,712 L1105.5,711.6" stroke-width="1.2"/>
<path d="M1149,709 L1166,712 Q1172,714 1171.5,721 L1170.8,731 Q1170,734 1164,733 L1150,729 Z"/>
<path d="M1140,705 Q1146,702 1150,707 L1149,726 Q1144,729 1139,724 Q1136,714 1140,705 Z" fill="#fff"/>
<ellipse cx="1141.5" cy="715" rx="2" ry="6" transform="rotate(5 1141.5 715)" />
<path d="M1157.5,692 Q1161,689 1164.5,692 L1164,702 Q1160,705 1157,702 Z" fill="#fff"/>
<path d="M1157.5,692 Q1161,696 1164.5,692" stroke-width="1.2"/>
<path d="M1143.5,725.7 L1092.5,772.2 M1228,634 L1148,704 M1164,699 L1183,706 M1163.9,732 L1185.4,739.3 M1131,738 L1181,756.3 M1117.4,754 L1161.6,768.8 M1094.7,774.4 L1141.2,793.7" stroke-width="1.2"/>
<ellipse cx="1131" cy="717.8" rx="2.4" ry="2.2" transform="rotate(0 1131 717.8)" fill="#fff" stroke-width="1.4"/>
<ellipse cx="1122" cy="724.6" rx="2.8" ry="2.8" transform="rotate(0 1122 724.6)" fill="#111"/>
<path d="M1104,738 L1113,731 L1116,735 L1107,742 Z" fill="#111" stroke-width="2"/>
<path d="M1113,735 L1124,725" stroke-width="1.1"/>
<ellipse cx="1130.4" cy="737" rx="2" ry="2.4" transform="rotate(0 1130.4 737)" fill="#fff" stroke-width="1.4"/>
<ellipse cx="1116" cy="750.7" rx="2.8" ry="2.8" transform="rotate(0 1116 750.7)" fill="#fff" stroke-width="2.2"/>
<path d="M1091,770 L1099,764 L1102,768.5 L1094,775 Z" fill="#111" stroke-width="2"/>
<ellipse cx="1305" cy="635" rx="2.8" ry="7.5" transform="rotate(5 1305 635)" fill="#fff"/>
<ellipse cx="1310.5" cy="637" rx="1.3" ry="3.5" transform="rotate(5 1310.5 637)" fill="#111"/>
<path d="M1320,635.5 L1337,640 L1336,645 L1319,641 Z" fill="#111" stroke-width="2"/>
<path d="M1307,636 L1320,638.5" stroke-width="1.1"/>
<ellipse cx="1276" cy="667" rx="2.8" ry="7" transform="rotate(5 1276 667)" fill="#fff"/>
<ellipse cx="1288.5" cy="667.5" rx="1.4" ry="3.5" transform="rotate(5 1288.5 667.5)" fill="#111"/>
<path d="M1293,664 L1310,668 L1309,674 L1292,670 Z" fill="#111" stroke-width="2"/>
<path d="M1278,667 L1293,667.5" stroke-width="1.1"/>
<path d="M860,685.3 L886,693.3" stroke-width="1.3" stroke-dasharray="8 2.5 1.5 2.5"/>
<!-- G -->
<path d="M866.5,823 L1137,888.5 L1128,893.5 L868,828 Q865,826 866.5,823 Z M869,825.5 L1130,889.5" stroke-width="1.5"/>
<path d="M891.5,836 L892.5,840" stroke-width="1.8"/>
<path d="M897,842 Q901,839 905,841 Q905,845 899,845.5 Z" fill="#111" stroke-width="1.6"/>
<path d="M1088,886 L1093,887.5 M1087,889 L1095,891" stroke-width="2.2"/>
<path d="M1104,894 L1104.5,898 M1104.2,894 L1158.2,908.4" stroke-width="1.2"/>
<path d="M859.2,844.5 Q861,841 865,842.3 L1134.8,913 L1135,918 L1131.2,922.8 L860,852.5 Z M860,848 L1133,918.5 M866,842.5 L867,850" stroke-width="1.6"/>
<path d="M893,853 L897,851 L899,856 M948,864 L952,866 M1000,878 L1004,880 M1052,892 L1056,894" stroke-width="1.3"/>
<path d="M864.2,865 L864.2,888" stroke-width="1.1"/><ellipse cx="864.2" cy="862" rx="4.8" ry="3.6" transform="rotate(0 864.2 862)" fill="#222" stroke-width="1.4"/><ellipse cx="863.7" cy="861.5" rx="2" ry="1.4" transform="rotate(0 863.7 861.5)" fill="#777" stroke="none"/><rect x="858.7" y="872" width="11" height="7" rx="1.5" fill="#111" stroke-width="1.2"/><rect x="860.4000000000001" y="874" width="3.2" height="3.2" fill="#fff" stroke="none"/><rect x="864.8000000000001" y="874" width="3.2" height="3.2" fill="#fff" stroke="none"/><path d="M859.7,886 L868.7,886 L869.2,897 Q864.2,900.5 859.2,897 Z" fill="#111" stroke-width="1.2"/><ellipse cx="862.4000000000001" cy="896" rx="1.2" ry="1.1" transform="rotate(0 862.4000000000001 896)" fill="#fff" stroke="none"/><ellipse cx="866.0" cy="896" rx="1.2" ry="1.1" transform="rotate(0 866.0 896)" fill="#fff" stroke="none"/>
<path d="M891.9,871.7 L891.9,894.7" stroke-width="1.1"/><ellipse cx="891.9" cy="868.7" rx="4.8" ry="3.6" transform="rotate(0 891.9 868.7)" fill="#222" stroke-width="1.4"/><ellipse cx="891.4" cy="868.2" rx="2" ry="1.4" transform="rotate(0 891.4 868.2)" fill="#777" stroke="none"/><rect x="886.4" y="878.7" width="11" height="7" rx="1.5" fill="#111" stroke-width="1.2"/><rect x="888.1" y="880.7" width="3.2" height="3.2" fill="#fff" stroke="none"/><rect x="892.5" y="880.7" width="3.2" height="3.2" fill="#fff" stroke="none"/><path d="M887.4,892.7 L896.4,892.7 L896.9,903.7 Q891.9,907.2 886.9,903.7 Z" fill="#111" stroke-width="1.2"/><ellipse cx="890.1" cy="902.7" rx="1.2" ry="1.1" transform="rotate(0 890.1 902.7)" fill="#fff" stroke="none"/><ellipse cx="893.6999999999999" cy="902.7" rx="1.2" ry="1.1" transform="rotate(0 893.6999999999999 902.7)" fill="#fff" stroke="none"/>
<path d="M916.4,878.3 L916.4,901.3" stroke-width="1.1"/><ellipse cx="916.4" cy="875.3" rx="4.8" ry="3.6" transform="rotate(0 916.4 875.3)" fill="#222" stroke-width="1.4"/><ellipse cx="915.9" cy="874.8" rx="2" ry="1.4" transform="rotate(0 915.9 874.8)" fill="#777" stroke="none"/><rect x="910.9" y="885.3" width="11" height="7" rx="1.5" fill="#111" stroke-width="1.2"/><rect x="912.6" y="887.3" width="3.2" height="3.2" fill="#fff" stroke="none"/><rect x="917.0" y="887.3" width="3.2" height="3.2" fill="#fff" stroke="none"/><path d="M911.9,899.3 L920.9,899.3 L921.4,910.3 Q916.4,913.8 911.4,910.3 Z" fill="#111" stroke-width="1.2"/><ellipse cx="914.6" cy="909.3" rx="1.2" ry="1.1" transform="rotate(0 914.6 909.3)" fill="#fff" stroke="none"/><ellipse cx="918.1999999999999" cy="909.3" rx="1.2" ry="1.1" transform="rotate(0 918.1999999999999 909.3)" fill="#fff" stroke="none"/>
<path d="M945.7,885.6 L945.7,908.6" stroke-width="1.1"/><ellipse cx="945.7" cy="882.6" rx="4.8" ry="3.6" transform="rotate(0 945.7 882.6)" fill="#222" stroke-width="1.4"/><ellipse cx="945.2" cy="882.1" rx="2" ry="1.4" transform="rotate(0 945.2 882.1)" fill="#777" stroke="none"/><rect x="940.2" y="892.6" width="11" height="7" rx="1.5" fill="#111" stroke-width="1.2"/><rect x="941.9000000000001" y="894.6" width="3.2" height="3.2" fill="#fff" stroke="none"/><rect x="946.3000000000001" y="894.6" width="3.2" height="3.2" fill="#fff" stroke="none"/><path d="M941.2,906.6 L950.2,906.6 L950.7,917.6 Q945.7,921.1 940.7,917.6 Z" fill="#111" stroke-width="1.2"/><ellipse cx="943.9000000000001" cy="916.6" rx="1.2" ry="1.1" transform="rotate(0 943.9000000000001 916.6)" fill="#fff" stroke="none"/><ellipse cx="947.5" cy="916.6" rx="1.2" ry="1.1" transform="rotate(0 947.5 916.6)" fill="#fff" stroke="none"/>
<path d="M976.7,893 L976.7,916" stroke-width="1.1"/><ellipse cx="976.7" cy="890" rx="4.8" ry="3.6" transform="rotate(0 976.7 890)" fill="#222" stroke-width="1.4"/><ellipse cx="976.2" cy="889.5" rx="2" ry="1.4" transform="rotate(0 976.2 889.5)" fill="#777" stroke="none"/><rect x="971.2" y="900" width="11" height="7" rx="1.5" fill="#111" stroke-width="1.2"/><rect x="972.9000000000001" y="902" width="3.2" height="3.2" fill="#fff" stroke="none"/><rect x="977.3000000000001" y="902" width="3.2" height="3.2" fill="#fff" stroke="none"/><path d="M972.2,914 L981.2,914 L981.7,925 Q976.7,928.5 971.7,925 Z" fill="#111" stroke-width="1.2"/><ellipse cx="974.9000000000001" cy="924" rx="1.2" ry="1.1" transform="rotate(0 974.9000000000001 924)" fill="#fff" stroke="none"/><ellipse cx="978.5" cy="924" rx="1.2" ry="1.1" transform="rotate(0 978.5 924)" fill="#fff" stroke="none"/>
<path d="M1010.6,901.5 L1010.6,924.5" stroke-width="1.1"/><ellipse cx="1010.6" cy="898.5" rx="4.8" ry="3.6" transform="rotate(0 1010.6 898.5)" fill="#222" stroke-width="1.4"/><ellipse cx="1010.1" cy="898.0" rx="2" ry="1.4" transform="rotate(0 1010.1 898.0)" fill="#777" stroke="none"/><rect x="1005.1" y="908.5" width="11" height="7" rx="1.5" fill="#111" stroke-width="1.2"/><rect x="1006.8000000000001" y="910.5" width="3.2" height="3.2" fill="#fff" stroke="none"/><rect x="1011.2" y="910.5" width="3.2" height="3.2" fill="#fff" stroke="none"/><path d="M1006.1,922.5 L1015.1,922.5 L1015.6,933.5 Q1010.6,937.0 1005.6,933.5 Z" fill="#111" stroke-width="1.2"/><ellipse cx="1008.8000000000001" cy="932.5" rx="1.2" ry="1.1" transform="rotate(0 1008.8000000000001 932.5)" fill="#fff" stroke="none"/><ellipse cx="1012.4" cy="932.5" rx="1.2" ry="1.1" transform="rotate(0 1012.4 932.5)" fill="#fff" stroke="none"/>
<path d="M1044.8,911.4 L1044.8,934.4" stroke-width="1.1"/><ellipse cx="1044.8" cy="908.4" rx="4.8" ry="3.6" transform="rotate(0 1044.8 908.4)" fill="#222" stroke-width="1.4"/><ellipse cx="1044.3" cy="907.9" rx="2" ry="1.4" transform="rotate(0 1044.3 907.9)" fill="#777" stroke="none"/><rect x="1039.3" y="918.4" width="11" height="7" rx="1.5" fill="#111" stroke-width="1.2"/><rect x="1041.0" y="920.4" width="3.2" height="3.2" fill="#fff" stroke="none"/><rect x="1045.3999999999999" y="920.4" width="3.2" height="3.2" fill="#fff" stroke="none"/><path d="M1040.3,932.4 L1049.3,932.4 L1049.8,943.4 Q1044.8,946.9 1039.8,943.4 Z" fill="#111" stroke-width="1.2"/><ellipse cx="1043.0" cy="942.4" rx="1.2" ry="1.1" transform="rotate(0 1043.0 942.4)" fill="#fff" stroke="none"/><ellipse cx="1046.6" cy="942.4" rx="1.2" ry="1.1" transform="rotate(0 1046.6 942.4)" fill="#fff" stroke="none"/>
<path d="M1078.1,919.5 L1078.1,942.5" stroke-width="1.1"/><ellipse cx="1078.1" cy="916.5" rx="4.8" ry="3.6" transform="rotate(0 1078.1 916.5)" fill="#222" stroke-width="1.4"/><ellipse cx="1077.6" cy="916.0" rx="2" ry="1.4" transform="rotate(0 1077.6 916.0)" fill="#777" stroke="none"/><rect x="1072.6" y="926.5" width="11" height="7" rx="1.5" fill="#111" stroke-width="1.2"/><rect x="1074.3" y="928.5" width="3.2" height="3.2" fill="#fff" stroke="none"/><rect x="1078.6999999999998" y="928.5" width="3.2" height="3.2" fill="#fff" stroke="none"/><path d="M1073.6,940.5 L1082.6,940.5 L1083.1,951.5 Q1078.1,955.0 1073.1,951.5 Z" fill="#111" stroke-width="1.2"/><ellipse cx="1076.3" cy="950.5" rx="1.2" ry="1.1" transform="rotate(0 1076.3 950.5)" fill="#fff" stroke="none"/><ellipse cx="1079.8999999999999" cy="950.5" rx="1.2" ry="1.1" transform="rotate(0 1079.8999999999999 950.5)" fill="#fff" stroke="none"/>
<path d="M1106,927.6 L1106,950.6" stroke-width="1.1"/><ellipse cx="1106" cy="924.6" rx="4.8" ry="3.6" transform="rotate(0 1106 924.6)" fill="#222" stroke-width="1.4"/><ellipse cx="1105.5" cy="924.1" rx="2" ry="1.4" transform="rotate(0 1105.5 924.1)" fill="#777" stroke="none"/><rect x="1100.5" y="934.6" width="11" height="7" rx="1.5" fill="#111" stroke-width="1.2"/><rect x="1102.2" y="936.6" width="3.2" height="3.2" fill="#fff" stroke="none"/><rect x="1106.6" y="936.6" width="3.2" height="3.2" fill="#fff" stroke="none"/><path d="M1101.5,948.6 L1110.5,948.6 L1111,959.6 Q1106,963.1 1101,959.6 Z" fill="#111" stroke-width="1.2"/><ellipse cx="1104.2" cy="958.6" rx="1.2" ry="1.1" transform="rotate(0 1104.2 958.6)" fill="#fff" stroke="none"/><ellipse cx="1107.8" cy="958.6" rx="1.2" ry="1.1" transform="rotate(0 1107.8 958.6)" fill="#fff" stroke="none"/>
<path d="M1107.8,925.5 L1151,938 M1111,955.2 L1129.4,958.8" stroke-width="1.2"/>
<path d="M846,921 Q850,910 860,908.7 Q864,908.3 866,908.7 L1131.2,978.6" />
<path d="M846,921 L841.7,921.2 Q837.5,925 838,931 Q838.5,937 841,938 L852.4,939.6 M846,921 Q847,925 852.4,927.3 L1124,997 M852.4,927.3 L852.4,939.6"/>
<path d="M852.4,940.8 L1126,1011.3" stroke="#111" stroke-width="4"/>
<path d="M856,941.2 L1122,1009.8" stroke="#fff" stroke-width="0.9" stroke-dasharray="1.2 3.5"/>
<path d="M843.9,943.3 Q846,942 852,942.6 L1122,1013 M843.9,943.3 Q845,950 852.4,954 L1122,1023"/>
<path d="M848,946 L1120,1016" stroke-width="1.2"/>
<path d="M1131.2,978.6 Q1145,983 1148,995 L1147,1001 M1122,1023 Q1142,1022 1148,1008"/>
<path d="M1126,985 Q1134,981 1140,985 Q1136,992 1130,990 Z M1124,1018 Q1133,1022 1142,1016 Q1134,1011 1126,1013 Z" stroke-width="1.5"/>
<ellipse cx="1133" cy="1000" rx="11" ry="21" transform="rotate(0 1133 1000)" stroke-width="1.5"/>
<path d="M1137,993 L1174.4,1005.6 M1137,1011 L1172.6,1020 M1143.8,994.8 Q1140,1004 1142,1012.8 M1164,1003 Q1162,1010 1164,1017"/>
<ellipse cx="1171.5" cy="1012.8" rx="3.6" ry="7.5" transform="rotate(5 1171.5 1012.8)" />
<path d="M1165.4,990 L1166.5,996" stroke-width="2.5"/>
<path d="M1155.5,1021.8 L1142,1050.6" stroke-width="1.2" stroke-dasharray="10 3 2 3"/>
<path d="M845.5,971.6 L845.5,997.6" stroke-width="1.1"/><path d="M841.0,965.1 Q845.5,962.6 850.0,965.1 L850.0,971.6 L849.0,976.6 L842.0,976.6 L841.0,971.6 Z" fill="#111" stroke-width="1.3"/><ellipse cx="844.0" cy="967.6" rx="1.3" ry="1.2" transform="rotate(0 844.0 967.6)" fill="#fff" stroke="none"/><ellipse cx="847.3" cy="967.6" rx="1.3" ry="1.2" transform="rotate(0 847.3 967.6)" fill="#fff" stroke="none"/><rect x="840.2" y="982.6" width="10.6" height="6.5" rx="1.6" fill="#111" stroke-width="1.2"/><rect x="841.9" y="984.4" width="3" height="3" fill="#fff" stroke="none"/><rect x="846.1" y="984.4" width="3" height="3" fill="#fff" stroke="none"/><ellipse cx="845.5" cy="997.6" rx="4.8" ry="3.8" transform="rotate(0 845.5 997.6)" fill="#222" stroke-width="1.3"/><ellipse cx="845.5" cy="997.1" rx="1.8" ry="1.2" transform="rotate(0 845.5 997.1)" fill="#888" stroke="none"/>
<path d="M870,977.5 L870,1003.5" stroke-width="1.1"/><path d="M865.5,971.0 Q870,968.5 874.5,971.0 L874.5,977.5 L873.5,982.5 L866.5,982.5 L865.5,977.5 Z" fill="#111" stroke-width="1.3"/><ellipse cx="868.5" cy="973.5" rx="1.3" ry="1.2" transform="rotate(0 868.5 973.5)" fill="#fff" stroke="none"/><ellipse cx="871.8" cy="973.5" rx="1.3" ry="1.2" transform="rotate(0 871.8 973.5)" fill="#fff" stroke="none"/><rect x="864.7" y="988.5" width="10.6" height="6.5" rx="1.6" fill="#111" stroke-width="1.2"/><rect x="866.4" y="990.3" width="3" height="3" fill="#fff" stroke="none"/><rect x="870.6" y="990.3" width="3" height="3" fill="#fff" stroke="none"/><ellipse cx="870" cy="1003.5" rx="4.8" ry="3.8" transform="rotate(0 870 1003.5)" fill="#222" stroke-width="1.3"/><ellipse cx="870" cy="1003.0" rx="1.8" ry="1.2" transform="rotate(0 870 1003.0)" fill="#888" stroke="none"/>
<path d="M898.3,983.9 L898.3,1009.9" stroke-width="1.1"/><path d="M893.8,977.4 Q898.3,974.9 902.8,977.4 L902.8,983.9 L901.8,988.9 L894.8,988.9 L893.8,983.9 Z" fill="#111" stroke-width="1.3"/><ellipse cx="896.8" cy="979.9" rx="1.3" ry="1.2" transform="rotate(0 896.8 979.9)" fill="#fff" stroke="none"/><ellipse cx="900.0999999999999" cy="979.9" rx="1.3" ry="1.2" transform="rotate(0 900.0999999999999 979.9)" fill="#fff" stroke="none"/><rect x="893.0" y="994.9" width="10.6" height="6.5" rx="1.6" fill="#111" stroke-width="1.2"/><rect x="894.6999999999999" y="996.6999999999999" width="3" height="3" fill="#fff" stroke="none"/><rect x="898.9" y="996.6999999999999" width="3" height="3" fill="#fff" stroke="none"/><ellipse cx="898.3" cy="1009.9" rx="4.8" ry="3.8" transform="rotate(0 898.3 1009.9)" fill="#222" stroke-width="1.3"/><ellipse cx="898.3" cy="1009.4" rx="1.8" ry="1.2" transform="rotate(0 898.3 1009.4)" fill="#888" stroke="none"/>
<path d="M928.1,992.4 L928.1,1018.4" stroke-width="1.1"/><path d="M923.6,985.9 Q928.1,983.4 932.6,985.9 L932.6,992.4 L931.6,997.4 L924.6,997.4 L923.6,992.4 Z" fill="#111" stroke-width="1.3"/><ellipse cx="926.6" cy="988.4" rx="1.3" ry="1.2" transform="rotate(0 926.6 988.4)" fill="#fff" stroke="none"/><ellipse cx="929.9" cy="988.4" rx="1.3" ry="1.2" transform="rotate(0 929.9 988.4)" fill="#fff" stroke="none"/><rect x="922.8000000000001" y="1003.4" width="10.6" height="6.5" rx="1.6" fill="#111" stroke-width="1.2"/><rect x="924.5" y="1005.1999999999999" width="3" height="3" fill="#fff" stroke="none"/><rect x="928.7" y="1005.1999999999999" width="3" height="3" fill="#fff" stroke="none"/><ellipse cx="928.1" cy="1018.4" rx="4.8" ry="3.8" transform="rotate(0 928.1 1018.4)" fill="#222" stroke-width="1.3"/><ellipse cx="928.1" cy="1017.9" rx="1.8" ry="1.2" transform="rotate(0 928.1 1017.9)" fill="#888" stroke="none"/>
<path d="M960.1,998.3 L960.1,1024.3" stroke-width="1.1"/><path d="M955.6,991.8 Q960.1,989.3 964.6,991.8 L964.6,998.3 L963.6,1003.3 L956.6,1003.3 L955.6,998.3 Z" fill="#111" stroke-width="1.3"/><ellipse cx="958.6" cy="994.3" rx="1.3" ry="1.2" transform="rotate(0 958.6 994.3)" fill="#fff" stroke="none"/><ellipse cx="961.9" cy="994.3" rx="1.3" ry="1.2" transform="rotate(0 961.9 994.3)" fill="#fff" stroke="none"/><rect x="954.8000000000001" y="1009.3" width="10.6" height="6.5" rx="1.6" fill="#111" stroke-width="1.2"/><rect x="956.5" y="1011.0999999999999" width="3" height="3" fill="#fff" stroke="none"/><rect x="960.7" y="1011.0999999999999" width="3" height="3" fill="#fff" stroke="none"/><ellipse cx="960.1" cy="1024.3" rx="4.8" ry="3.8" transform="rotate(0 960.1 1024.3)" fill="#222" stroke-width="1.3"/><ellipse cx="960.1" cy="1023.8" rx="1.8" ry="1.2" transform="rotate(0 960.1 1023.8)" fill="#888" stroke="none"/>
<path d="M991.7,1008.2 L991.7,1034.2" stroke-width="1.1"/><path d="M987.2,1001.7 Q991.7,999.2 996.2,1001.7 L996.2,1008.2 L995.2,1013.2 L988.2,1013.2 L987.2,1008.2 Z" fill="#111" stroke-width="1.3"/><ellipse cx="990.2" cy="1004.2" rx="1.3" ry="1.2" transform="rotate(0 990.2 1004.2)" fill="#fff" stroke="none"/><ellipse cx="993.5" cy="1004.2" rx="1.3" ry="1.2" transform="rotate(0 993.5 1004.2)" fill="#fff" stroke="none"/><rect x="986.4000000000001" y="1019.2" width="10.6" height="6.5" rx="1.6" fill="#111" stroke-width="1.2"/><rect x="988.1" y="1021.0" width="3" height="3" fill="#fff" stroke="none"/><rect x="992.3000000000001" y="1021.0" width="3" height="3" fill="#fff" stroke="none"/><ellipse cx="991.7" cy="1034.2" rx="4.8" ry="3.8" transform="rotate(0 991.7 1034.2)" fill="#222" stroke-width="1.3"/><ellipse cx="991.7" cy="1033.7" rx="1.8" ry="1.2" transform="rotate(0 991.7 1033.7)" fill="#888" stroke="none"/>
<path d="M1025.9,1017.2 L1025.9,1043.2" stroke-width="1.1"/><path d="M1021.4000000000001,1010.7 Q1025.9,1008.2 1030.4,1010.7 L1030.4,1017.2 L1029.4,1022.2 L1022.4000000000001,1022.2 L1021.4000000000001,1017.2 Z" fill="#111" stroke-width="1.3"/><ellipse cx="1024.4" cy="1013.2" rx="1.3" ry="1.2" transform="rotate(0 1024.4 1013.2)" fill="#fff" stroke="none"/><ellipse cx="1027.7" cy="1013.2" rx="1.3" ry="1.2" transform="rotate(0 1027.7 1013.2)" fill="#fff" stroke="none"/><rect x="1020.6000000000001" y="1028.2" width="10.6" height="6.5" rx="1.6" fill="#111" stroke-width="1.2"/><rect x="1022.3000000000001" y="1030.0" width="3" height="3" fill="#fff" stroke="none"/><rect x="1026.5" y="1030.0" width="3" height="3" fill="#fff" stroke="none"/><ellipse cx="1025.9" cy="1043.2" rx="4.8" ry="3.8" transform="rotate(0 1025.9 1043.2)" fill="#222" stroke-width="1.3"/><ellipse cx="1025.9" cy="1042.7" rx="1.8" ry="1.2" transform="rotate(0 1025.9 1042.7)" fill="#888" stroke="none"/>
<path d="M1061,1028 L1061,1054" stroke-width="1.1"/><path d="M1056.5,1021.5 Q1061,1019 1065.5,1021.5 L1065.5,1028 L1064.5,1033 L1057.5,1033 L1056.5,1028 Z" fill="#111" stroke-width="1.3"/><ellipse cx="1059.5" cy="1024" rx="1.3" ry="1.2" transform="rotate(0 1059.5 1024)" fill="#fff" stroke="none"/><ellipse cx="1062.8" cy="1024" rx="1.3" ry="1.2" transform="rotate(0 1062.8 1024)" fill="#fff" stroke="none"/><rect x="1055.7" y="1039" width="10.6" height="6.5" rx="1.6" fill="#111" stroke-width="1.2"/><rect x="1057.4" y="1040.8" width="3" height="3" fill="#fff" stroke="none"/><rect x="1061.6" y="1040.8" width="3" height="3" fill="#fff" stroke="none"/><ellipse cx="1061" cy="1054" rx="4.8" ry="3.8" transform="rotate(0 1061 1054)" fill="#222" stroke-width="1.3"/><ellipse cx="1061" cy="1053.5" rx="1.8" ry="1.2" transform="rotate(0 1061 1053.5)" fill="#888" stroke="none"/>
<path d="M1102.4,1038.8 L1102.4,1064.8" stroke-width="1.1"/><path d="M1097.9,1032.3 Q1102.4,1029.8 1106.9,1032.3 L1106.9,1038.8 L1105.9,1043.8 L1098.9,1043.8 L1097.9,1038.8 Z" fill="#111" stroke-width="1.3"/><ellipse cx="1100.9" cy="1034.8" rx="1.3" ry="1.2" transform="rotate(0 1100.9 1034.8)" fill="#fff" stroke="none"/><ellipse cx="1104.2" cy="1034.8" rx="1.3" ry="1.2" transform="rotate(0 1104.2 1034.8)" fill="#fff" stroke="none"/><rect x="1097.1000000000001" y="1049.8" width="10.6" height="6.5" rx="1.6" fill="#111" stroke-width="1.2"/><rect x="1098.8000000000002" y="1051.6" width="3" height="3" fill="#fff" stroke="none"/><rect x="1103.0" y="1051.6" width="3" height="3" fill="#fff" stroke="none"/><ellipse cx="1102.4" cy="1064.8" rx="4.8" ry="3.8" transform="rotate(0 1102.4 1064.8)" fill="#222" stroke-width="1.3"/><ellipse cx="1102.4" cy="1064.3" rx="1.8" ry="1.2" transform="rotate(0 1102.4 1064.3)" fill="#888" stroke="none"/>
<path d="M816,986 Q828,988 840,989" stroke-width="1.2"/>
<path d="M829.5,1007 L833.7,1002.8 L1113.2,1072 L1113,1081 L830.5,1013 Z" fill="#fff" stroke-width="1.6"/>
<path d="M831,1010.3 L1112,1077.5" stroke="#111" stroke-width="5"/>
<path d="M836,1011 L1108,1077" stroke="#fff" stroke-width="0.9" stroke-dasharray="1.2 3.5"/>
<path d="M834.8,1003.3 L1112,1071" stroke-width="1.3"/>
<path d="M804.4,1002.8 L828.4,1007.6" stroke-width="1.2"/>
<path d="M832.7,1032.1 Q834,1030.5 845.5,1030.5 L864.7,1037 L1113,1097 L1113,1101 L834.8,1033.7 Z" stroke-width="1.6"/>
<path d="M846,1036 L1112,1100" stroke="#333" stroke-width="2.2"/>
<path d="M857.2,1028.5 L864,1027.3 L866.8,1031.6 L858,1031 Z" fill="#111" stroke-width="1.5"/>
<path d="M872,1030.5 L873,1033.5" stroke-width="2"/>
<path d="M1088,1090 L1092,1089 L1095,1093 L1089,1093 Z" fill="#111" stroke-width="1.5"/>
<path d="M858.3,1028.4 L826.3,1020.4 L815.6,1058.3 M914.3,1054 L905.2,1086.5" stroke-width="1.2"/>
<!-- H -->
<path d="M1190,997 Q1180,1000 1179.5,1016 Q1180,1033 1191,1036.5 L1198,1036.5 M1190,997 L1198,997" fill="#fff"/>
<ellipse cx="1197.5" cy="1016.8" rx="9" ry="19.5" transform="rotate(5 1197.5 1016.8)" fill="#fff"/>
<ellipse cx="1198.5" cy="1017" rx="6" ry="14" transform="rotate(5 1198.5 1017)" stroke-width="1.3"/>
<ellipse cx="1199" cy="1017" rx="4.2" ry="10.5" transform="rotate(5 1199 1017)" stroke-width="1.2"/>
<path d="M1174,1013 L1242,1030" stroke-width="1"/>
<path d="M1220,997.6 Q1206,1000 1205,1024 Q1206,1049 1222,1051 L1231,1051 M1220,997.6 L1231,997.6" fill="#222" stroke-width="1.6"/>
<path d="M1208,1005 L1228,1005 M1206,1013 L1226,1013 M1205.5,1021 L1225,1021 M1205.5,1029 L1225,1029 M1206,1037 L1226,1037 M1208,1045 L1228,1045" stroke="#666" stroke-width="1" stroke-dasharray="1.5 2"/>
<ellipse cx="1230.4" cy="1024.3" rx="13" ry="26.5" transform="rotate(5 1230.4 1024.3)" fill="#222"/>
<ellipse cx="1231" cy="1024.5" rx="9" ry="20.5" transform="rotate(5 1231 1024.5)" fill="#fff" stroke-width="1.6"/>
<path d="M1228,1014 L1236,1016 L1235,1033 L1227,1031 Z" stroke-width="1.4"/>
<ellipse cx="1233" cy="1004" rx="2" ry="2" transform="rotate(0 1233 1004)" fill="#111"/><ellipse cx="1229" cy="1044" rx="2" ry="2" transform="rotate(0 1229 1044)" fill="#111"/>
<ellipse cx="1245.8" cy="1030" rx="3.5" ry="8" transform="rotate(8 1245.8 1030)" fill="#fff" stroke-width="1.8"/>
<ellipse cx="1246" cy="1030" rx="1.4" ry="4" transform="rotate(8 1246 1030)" stroke-width="1"/>
<path d="M1256,1027 L1266,1024.5 L1271,1030 L1270,1040 L1265,1046.7 L1255,1044 Q1252,1036 1256,1027 Z" fill="#fff"/>
<path d="M1263,1025 Q1260,1035 1263,1046 L1266,1046.5 L1271,1039 L1271,1030 L1266,1024.5 Z" fill="#111"/>
<path d="M1266.7,978.4 Q1272,976 1279.5,977.3 L1322,1021 Q1326,1026 1324,1034 L1312,1066 Q1309,1069 1303,1068 L1290,1066 Q1286,1064 1284,1058 L1264.5,1004 Q1262,985 1266.7,978.4 Z" fill="#fff"/>
<path d="M1279.5,977.3 Q1270,986 1273.5,1004 L1290,1064 M1264.5,1004 Q1269,1003 1273.5,1004"/>
<path d="M1283,988 Q1285,983 1291,987 L1318,1020 Q1321,1026 1319,1032 L1309,1060 Q1305,1063 1301,1058 L1283,998 Q1281,992 1283,988 Z"/>
<path d="M1287,991 L1314,1023 Q1316,1029 1314,1032 L1305,1056 M1287,991 Q1285,994 1287,1000" stroke-width="1.2"/>
<path d="M1295,1000 L1308,1016 L1305,1044 Z" stroke-width="1.1"/>
<path d="M1330.7,966.7 Q1340,964 1349.9,971 L1384,1001.9 Q1391.5,1010 1391.5,1021 L1386,1048.8 Q1380,1065 1369,1070 Q1360,1070 1345.6,1061.6 L1342,1054 Q1332,1045 1326.4,1029.6 L1322,993.3 Q1322,975 1330.7,966.7 Z" fill="#fff"/>
<path d="M1349.9,971 Q1341,978 1342,995 L1346,1040 Q1350,1060 1368,1068 M1322,993.3 Q1332,995 1342,995"/>
<path d="M1350,976 L1380,1004 Q1387,1012 1386,1022 L1381,1046 Q1375,1062 1366,1064 Q1356,1062 1352,1050 L1346,1000 Q1345,984 1350,976 Z" stroke-width="1.3"/>
<path d="M1353.5,983 L1354,1008 M1355.5,981 L1356,1006 M1381,1008 L1383,1036 M1378,1015 L1380,1042 M1372,1022 L1373,1050 M1368,1028 L1369,1056 M1364,1034 L1365,1058" stroke-width="1.6"/>
<path d="M1340,1052 L1342,1060 L1350,1062" stroke-width="1.6"/>
<path d="M1358.4,1005 L1418,1021 M1367,1020 L1414,1031.7" stroke-width="1.2"/>
<ellipse cx="1358.4" cy="1005" rx="1.4" ry="1.4" transform="rotate(0 1358.4 1005)" fill="#111"/><ellipse cx="1367" cy="1020" rx="1.4" ry="1.4" transform="rotate(0 1367 1020)" fill="#111"/>
<ellipse cx="1401" cy="1016.8" rx="2.5" ry="5.5" transform="rotate(20 1401 1016.8)" fill="#fff" stroke-width="1.7"/>
<ellipse cx="1412.8" cy="1031.7" rx="2.5" ry="5.5" transform="rotate(20 1412.8 1031.7)" fill="#fff" stroke-width="1.7"/>
<path d="M1417,1018.5 L1429,1021.5 L1428,1026 L1416,1023.5 Z" fill="#111" stroke-width="2"/>
<path d="M1429,1019.5 Q1434,1019 1434,1024 Q1433,1028 1428,1027 Z" fill="#111" stroke-width="1.5"/>
<path d="M1428,1034 L1440,1037 L1439,1041.5 L1427,1039 Z" fill="#111" stroke-width="2"/>
<path d="M1440,1035 Q1445,1035 1445,1040 Q1444,1044 1439,1043 Z" fill="#111" stroke-width="1.5"/>
<path d="M1424.5,965.6 L1402,1014.7 M1463,989 L1441.6,1036 M1354,950.7 L1347.7,966.7 M1183.5,1036 L1170.7,1063.7 M1211,1048.8 L1200.5,1070 M1268.8,1048.8 L1249.6,1089.3" stroke-width="1.2"/>
<path d="M1305,940 L1288,977.3 M1245,1040 L1224,1085" stroke-width="1.2" stroke-dasharray="10 3 2 3"/>

</g>
<g id="labels" font-family="Liberation Serif" font-size="30" fill="#111" stroke="#111" stroke-width="0.55" letter-spacing="3">
<text transform="translate(59,229) scale(0.6 1)">3</text>
<text transform="translate(77,231) scale(0.6 1)">13</text>
<text transform="translate(185,271) scale(0.6 1)">81</text>
<text transform="translate(266,277) scale(0.6 1)">80</text>
<text transform="translate(304,287) scale(0.6 1)">64</text>
<text transform="translate(338,297) scale(0.6 1)">79</text>
<text transform="translate(373,304) scale(0.6 1)">77</text>
<text transform="translate(419,314) scale(0.6 1)">76</text>
<text transform="translate(268,423) scale(0.6 1)">61</text>
<text transform="translate(294,433) scale(0.6 1)">78</text>
<text transform="translate(650.5,380.5) scale(0.6 1)">75</text>
<text transform="translate(601,569.5) scale(0.6 1)">74</text>
<text transform="translate(814,439) scale(0.6 1)">70</text>
<text transform="translate(856,437.5) scale(0.6 1)">69</text>
<text transform="translate(752.5,587.5) scale(0.6 1)">72</text>
<text transform="translate(722.5,631) scale(0.6 1)">73</text>
<text transform="translate(856,383) scale(0.6 1)">66</text>
<text transform="translate(942,389) scale(0.6 1)">65</text>
<text transform="translate(872,469.5) scale(0.6 1)">68</text>
<text transform="translate(1364,372) scale(0.6 1)">52</text>
<text transform="translate(1364,397.8) scale(0.6 1)">37</text>
<text transform="translate(1366,442.3) scale(0.6 1)">53</text>
<text transform="translate(1439,476) scale(0.6 1)">146</text>
<text transform="translate(826,638) scale(0.6 1)">67</text>
<text transform="translate(821,685) scale(0.6 1)">63</text>
<text transform="translate(1023,687) scale(0.6 1)">62</text>
<text transform="translate(1025,718) scale(0.6 1)">61</text>
<text transform="translate(1027,746) scale(0.6 1)">60</text>
<text transform="translate(926,736) scale(0.6 1)">12</text>
<text transform="translate(1065,697) scale(0.6 1)">62</text>
<text transform="translate(1065,721) scale(0.6 1)">59</text>
<text transform="translate(1186,721) scale(0.6 1)">124</text>
<text transform="translate(1185,747) scale(0.6 1)">58</text>
<text transform="translate(1183,775) scale(0.6 1)">143</text>
<text transform="translate(1159,789) scale(0.6 1)">26</text>
<text transform="translate(1139,814) scale(0.6 1)">57</text>
<text transform="translate(1164,918) scale(0.6 1)">49</text>
<text transform="translate(1159,951) scale(0.6 1)">61</text>
<text transform="translate(1130,969.6) scale(0.6 1)">51</text>
<text transform="translate(1169,978) scale(0.6 1)">141</text>
<text transform="translate(1293,935.5) scale(0.6 1)">40</text>
<text transform="translate(1349,945.3) scale(0.6 1)">39</text>
<text transform="translate(1422,958.4) scale(0.6 1)">13</text>
<text transform="translate(1461,982.7) scale(0.6 1)">3</text>
<text transform="translate(784.6,990) scale(0.6 1)">132</text>
<text transform="translate(779.7,1015) scale(0.6 1)">50</text>
<text transform="translate(801.6,1080) scale(0.6 1)">47</text>
<text transform="translate(894,1106.8) scale(0.6 1)">48</text>
<text transform="translate(1127.6,1075) scale(0.6 1)">45</text>
<text transform="translate(1157,1085) scale(0.6 1)">44</text>
<text transform="translate(1183.6,1094.7) scale(0.6 1)">43</text>
<text transform="translate(1210,1104.4) scale(0.6 1)">42</text>
<text transform="translate(1237,1109) scale(0.6 1)">41</text>
</g>
<!-- footer -->
<rect x="0" y="1370.8" width="1500" height="1.5" fill="#000"/>
<rect x="31" y="1406" width="215.6" height="60" fill="#807f84"/>
<g fill="#fff">
<path d="M66.6,1417.2 L85.2,1436.1 L66.6,1455 L56.8,1446 L56.8,1426.8 Z"/>
</g>
<path fill="#807f84" d="M56.8,1426.8 L70,1426.8 Q74.4,1427.6 74.4,1431.6 Q74.4,1434.6 72.8,1436.1 Q74.4,1437.6 74.4,1440.8 Q74.4,1445 70,1446 L56.8,1446 Z"/>
<g fill="#fff">
<rect x="46.8" y="1430.8" width="22" height="3.6" rx="1.8"/>
<rect x="46.8" y="1437.6" width="22" height="3.6" rx="1.8"/>
<!-- З -->
<path d="M97.6,1422 L117,1422 Q124,1422.5 124,1429 L124,1432.6 Q124,1435.4 122.4,1435.8 Q124,1436.4 124,1439.2 L124,1442.4 Q124,1449 117,1449.2 L97.6,1449.2 L93.6,1442.4 L115.2,1442.4 Q116.8,1442.4 116.8,1440.8 Q116.8,1439.2 115.2,1439.2 L104,1439.2 L104,1432.4 L115.2,1432.4 Q116.8,1432.4 116.8,1430.8 Q116.8,1429.2 115.2,1429.2 L93.6,1429.2 Z"/>
<!-- У -->
<path d="M127.6,1422 L137.2,1422 L137.2,1432.8 L151.2,1432.8 L151.2,1422 L158.4,1422 L158.4,1443 Q158.4,1449.2 151,1449.2 L128.2,1449.2 L128.2,1442.4 L151.2,1442.4 L151.2,1440 L134,1440 Q127.6,1440 127.6,1432 Z"/>
<!-- Б -->
<path d="M163.8,1422.2 L193.2,1422.2 L193.2,1429.7 L172.2,1429.7 L172.2,1432.7 L188.5,1432.7 Q195.3,1433.5 195.3,1440.8 Q195.3,1448.9 188,1448.9 L165.5,1448.9 Q163.8,1448.9 163.8,1447 Z M173.8,1439.3 Q172.2,1439.3 172.2,1440.6 Q172.2,1442 173.8,1442 L185.5,1442 Q186.9,1442 186.9,1440.6 Q186.9,1439.3 185.5,1439.3 Z"/>
<!-- Р -->
<path d="M198.9,1422.2 L223.2,1422.2 Q231,1422.6 231,1430.8 Q231,1439.6 223.2,1439.6 L207.9,1439.6 L207.9,1448 Q207.9,1448.9 206.5,1448.9 L200.3,1448.9 Q198.9,1448.9 198.9,1447.5 Z M207.9,1429.7 L207.9,1432.7 L221.1,1432.7 Q222.6,1432.7 222.6,1431.2 Q222.6,1429.7 221.1,1429.7 Z"/>
</g>
</svg>
<div class="ft" id="t1" style="left:287.5px;top:1418px;font-size:36px;transform-origin:0 0;transform:scaleX(0.985);-webkit-text-stroke:0.35px #111;color:#111">РС-305.</div>
<div class="ft" id="t2" style="left:422px;top:1419px;font-size:35px;transform-origin:0 0;transform:scaleX(0.864);color:#000;-webkit-text-stroke:1px #fff">Схема 2-3 (Схема-состав. Станок рейсмусовый)</div>
</body></html>
